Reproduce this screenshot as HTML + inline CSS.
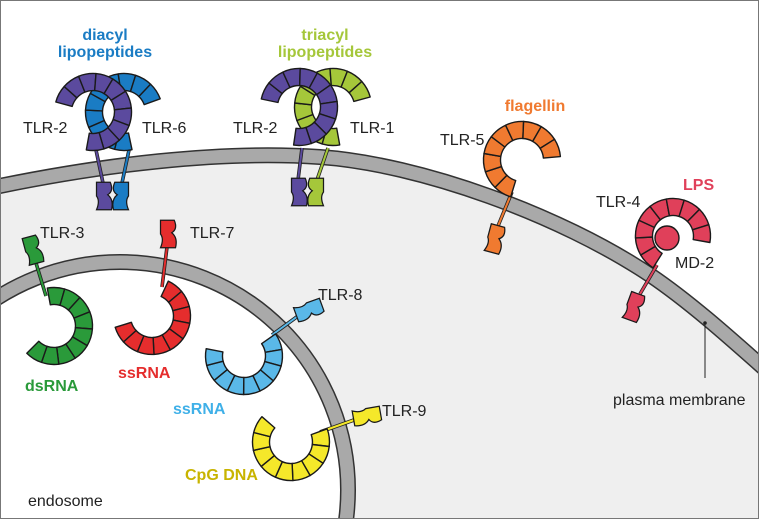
<!DOCTYPE html>
<html><head><meta charset="utf-8"><style>
html,body{margin:0;padding:0;background:#fff;width:759px;height:519px;overflow:hidden}
svg{display:block}
text{font-family:"Liberation Sans Narrow","Liberation Sans",sans-serif}
.l{font-size:16px;fill:#222}
.b{font-size:16px;font-weight:bold}
</style></head><body>
<svg id="s" width="759" height="519" viewBox="0 0 759 519" xmlns="http://www.w3.org/2000/svg">
<rect x="0.5" y="0.5" width="758" height="518" fill="#fff" stroke="#777"/>
<path d="M-10,188 C100,165 220,150 320,157 C420,164 560,215 650,275 C690,302 730,338 775,378 L775,530 L-10,530 Z" fill="#efefef"/>
<path d="M-10,188 C100,165 220,150 320,157 C420,164 560,215 650,275 C690,302 730,338 775,378" fill="none" stroke="#333" stroke-width="16"/>
<path d="M-10,188 C100,165 220,150 320,157 C420,164 560,215 650,275 C690,302 730,338 775,378" fill="none" stroke="#a9a9a9" stroke-width="13"/>
<circle cx="120" cy="490" r="228" fill="#fff" stroke="#333" stroke-width="16"/>
<circle cx="120" cy="490" r="228" fill="none" stroke="#a9a9a9" stroke-width="13"/>
<rect x="0.5" y="0.5" width="758" height="518" fill="none" stroke="#777"/>
<line x1="705" y1="323" x2="705" y2="378" stroke="#222" stroke-width="1"/>
<circle cx="705" cy="323" r="1.8" fill="#222"/>
<g id="g"></g>
<text class="b" x="105" y="40" text-anchor="middle" fill="#1a7cc4">diacyl</text>
<text class="b" x="105" y="57" text-anchor="middle" fill="#1a7cc4">lipopeptides</text>
<text class="b" x="325" y="40" text-anchor="middle" fill="#a5c73a">triacyl</text>
<text class="b" x="325" y="57" text-anchor="middle" fill="#a5c73a">lipopeptides</text>
<text class="l" x="23" y="133">TLR-2</text>
<text class="l" x="142" y="133">TLR-6</text>
<text class="l" x="233" y="133">TLR-2</text>
<text class="l" x="350" y="133">TLR-1</text>
<text class="b" x="535" y="111" text-anchor="middle" fill="#f07a30">flagellin</text>
<text class="l" x="440" y="145">TLR-5</text>
<text class="b" x="683" y="190" fill="#e0405a">LPS</text>
<text class="l" x="596" y="207">TLR-4</text>
<text class="l" x="675" y="268">MD-2</text>
<text class="l" x="40" y="238">TLR-3</text>
<text class="l" x="190" y="238">TLR-7</text>
<text class="l" x="318" y="300">TLR-8</text>
<text class="l" x="382" y="416">TLR-9</text>
<text class="b" x="25" y="391" fill="#2a9a3a">dsRNA</text>
<text class="b" x="118" y="378" fill="#e52d2d">ssRNA</text>
<text class="b" x="173" y="414" fill="#3fb0e8">ssRNA</text>
<text class="b" x="185" y="480" fill="#c8b400">CpG DNA</text>
<text class="l" x="28" y="506">endosome</text>
<text class="l" x="613" y="405">plasma membrane</text>
</svg>
<script>
var g=document.getElementById('g'),NS='http://www.w3.org/2000/svg';
function el(t,a){var e=document.createElementNS(NS,t);for(var k in a)e.setAttribute(k,a[k]);g.appendChild(e);return e;}
function P(cx,cy,r,a){a=a*Math.PI/180;return (cx+r*Math.cos(a)).toFixed(1)+','+(cy+r*Math.sin(a)).toFixed(1);}
function arc(cx,cy,r,a0,a1,n,f){var t=17,ro=r+t/2,ri=r-t/2,st=(a1-a0)/n;
 for(var i=0;i<n;i++){var s=a0+i*st,e=s+st;
  el('path',{d:'M'+P(cx,cy,ro,s)+' A'+ro+','+ro+' 0 0 1 '+P(cx,cy,ro,e)+' L'+P(cx,cy,ri,e)+' A'+ri+','+ri+' 0 0 0 '+P(cx,cy,ri,s)+'Z',fill:f,stroke:'#1a1a1a','stroke-width':1.4,'stroke-linejoin':'round'});}}
function stem(x1,y1,x2,y2,f){el('line',{x1:x1,y1:y1,x2:x2,y2:y2,stroke:'#222','stroke-width':3.6});el('line',{x1:x1,y1:y1,x2:x2,y2:y2,stroke:f,'stroke-width':2});}
function tir(x,y,rot,f,m){el('path',{d:'M-6,-11 L5,-11 Q8,-4 3,-1 Q8,3 6,11 L-6,11 Q-3,4 -6,0 Z',fill:f,stroke:'#1a1a1a','stroke-width':1,transform:'translate('+x+','+y+') rotate('+rot+') scale('+(m?-1.25:1.25)+',1.25)'});}
var PU='#5b4a9e',BL='#1a7cc4',GR='#a5c73a',OR='#f07a30',RD='#e0405a';
stem(96,150,103,183,PU);stem(129,150,122,183,BL);tir(104,196,0,PU,0);tir(121,196,0,BL,1);
arc(124,112,30,78,340,10,BL);arc(93,112,30,195,460,10,PU);
stem(302,148,298,180,PU);stem(328,148,317,180,GR);tir(299,192,0,PU,0);tir(316,192,0,GR,1);
arc(333,107,30,80,345,10,GR);arc(299,107,30,192,458,10,PU);
stem(512,192,498,226,OR);tir(495,239,15,OR,0);arc(522,160,30,107,355,9,OR);
stem(657,265,640,294,RD);tir(634,307,20,RD,0);arc(673,236,29,122,370,9,RD);
el('circle',{cx:667,cy:238,r:12,fill:RD,stroke:'#1a1a1a','stroke-width':1.4});
stem(46,296,36,263,'#2a9a3a');tir(33,250,-15,'#2a9a3a',0);arc(54,326,30,-100,135,9,'#2a9a3a');
stem(162,287,167,247,'#e52d2d');tir(168,234,0,'#e52d2d',0);arc(152,316,30,-65,163,9,'#e52d2d');
stem(272,335,298,316,'#5ab8e8');tir(309,310,70,'#5ab8e8',0);arc(244,356,30,-35,191,9,'#5ab8e8');
stem(320,432,354,420,'#f5e82a');tir(367,416,80,'#f5e82a',0);arc(291,442,30,-20,221,9,'#f5e82a');
</script>
</body></html>
